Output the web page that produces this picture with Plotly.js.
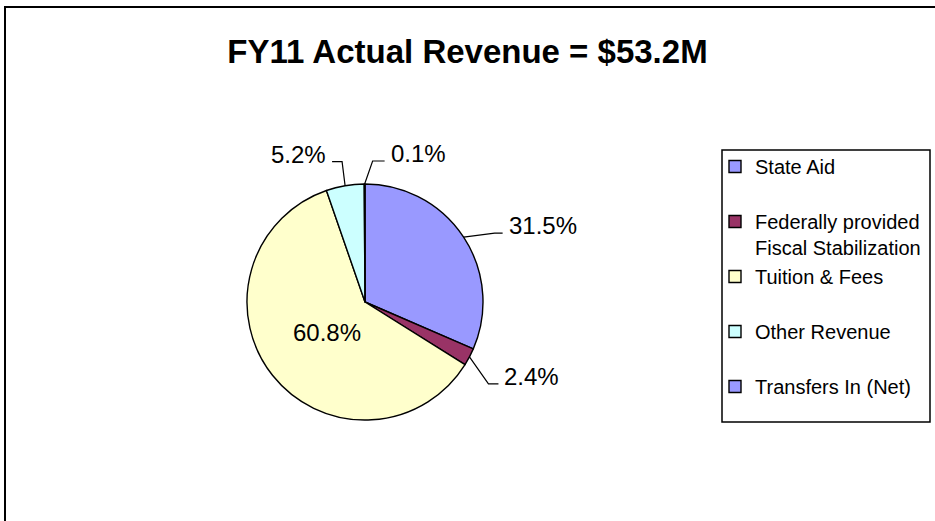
<!DOCTYPE html>
<html><head><meta charset="utf-8">
<script src="https://cdn.plot.ly/plotly-3.0.1.min.js"></script>
<style>html,body{margin:0;padding:0;background:#fff;}#chart{width:935px;height:521px;}</style>
</head><body><div id="chart"></div>
<script>
// ---- data ----
const categories = ["State Aid", "Federally provided<br>Fiscal Stabilization", "Tuition & Fees", "Other Revenue", "Transfers In (Net)"];
const shares = [31.5, 2.4, 60.8, 5.2, 0.1];
const sliceColors = ["#9999FF", "#993366", "#FFFFCC", "#CCFFFF", "#9999FF"];
const titleText = "FY11 Actual Revenue = $53.2M";

// ---- layout geometry ----
const W = 935, H = 521;
const cx = 365, cy = 302, R = 118;
const FONT = '"Liberation Sans", Arial, sans-serif';
const domain = {x: [(cx - R) / W, (cx + R) / W], y: [1 - (cy + R) / H, 1 - (cy - R) / H]};
const total = shares.reduce((a, b) => a + b, 0);
// leader line: [dx, dy] from slice edge to elbow, then horizontal length; null = inside label
const leaders = [[31, -4, 8], [19, 27, 10], null, [-3, -24, -10], [8, -23, 12]];

const fx = px => px / W, fy = py => 1 - py / H;
let cum = 0;
const annotations = [];
const shapes = [];
shares.forEach((v, i) => {
  const mid = (cum + v / 2) / total * 2 * Math.PI;
  cum += v;
  const txt = (v / total * 100).toFixed(1) + '%';
  const ld = leaders[i];
  const font = {family: FONT, size: 24, color: '#000'};
  if (!ld) {
    const rr = R * 0.41;
    annotations.push({x: fx(cx + rr * Math.sin(mid)), y: fy(cy - rr * Math.cos(mid)), xref: 'paper', yref: 'paper',
      text: txt, font: font, showarrow: false, xanchor: 'center', yanchor: 'middle'});
    return;
  }
  const x0 = cx + R * Math.sin(mid), y0 = cy - R * Math.cos(mid);
  const x1 = x0 + ld[0], y1 = y0 + ld[1];
  const x2 = x1 + ld[2];
  shapes.push({type: 'path', xref: 'paper', yref: 'paper',
    path: `M ${fx(x0)} ${fy(y0)} L ${fx(x1)} ${fy(y1)} L ${fx(x2)} ${fy(y1)}`,
    line: {color: '#000', width: 1.2}});
  const right = ld[2] > 0;
  annotations.push({x: fx(x2 + (right ? 4 : -4)), y: fy(y1 - 7.5), xref: 'paper', yref: 'paper',
    text: txt, font: font, showarrow: false, xanchor: right ? 'left' : 'right', yanchor: 'middle'});
});

const legendLabels = categories.map(c => c.includes('<br>') ? c : c + '<br> ');

// legend frame + outer chart frame
shapes.push({type: 'rect', xref: 'paper', yref: 'paper', x0: fx(722), x1: fx(930), y0: fy(422), y1: fy(150),
  line: {color: '#000', width: 1.5}, fillcolor: 'rgba(0,0,0,0)', layer: 'above'});
shapes.push({type: 'rect', xref: 'paper', yref: 'paper', x0: fx(5), x1: 1.02, y0: -0.02, y1: fy(7),
  line: {color: '#000', width: 2}, fillcolor: 'rgba(0,0,0,0)', layer: 'above'});

const trace = {
  type: 'pie',
  labels: legendLabels,
  values: shares,
  sort: false,
  direction: 'clockwise',
  rotation: 0,
  domain: domain,
  textinfo: 'none',
  hoverinfo: 'label+percent',
  marker: {colors: sliceColors, line: {color: '#000', width: 1.4}}
};

const layout = {
  width: W, height: H,
  margin: {l: 0, r: 0, t: 0, b: 0},
  paper_bgcolor: '#fff',
  font: {family: FONT, color: '#000'},
  title: {text: titleText, font: {family: FONT, size: 33, weight: 'bold', color: '#000'},
    x: 0.5, xanchor: 'center', xref: 'paper', y: 1 - 51 / H, yanchor: 'middle', yref: 'container'},
  showlegend: true,
  legend: {x: fx(715), y: fy(147), xanchor: 'left', yanchor: 'top', borderwidth: 0,
    bgcolor: 'rgba(0,0,0,0)', font: {family: FONT, size: 20, color: '#000'}, valign: 'top', traceorder: 'normal'},
  annotations: annotations,
  shapes: shapes
};

Plotly.newPlot('chart', [trace], layout, {displayModeBar: false, staticPlot: true});
</script>
</body></html>
